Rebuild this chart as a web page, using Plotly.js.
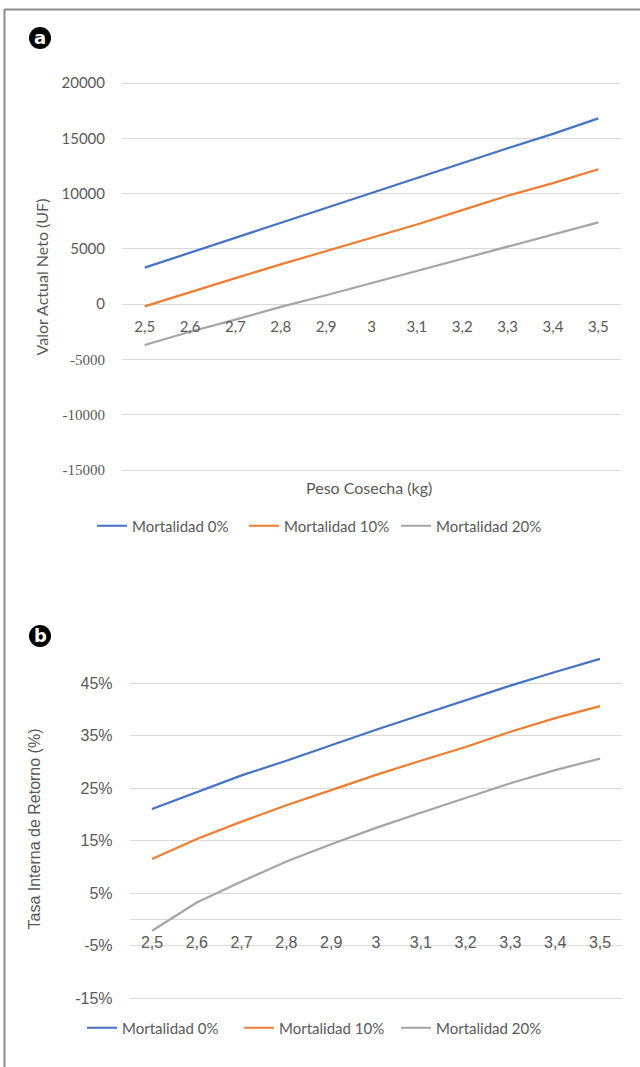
<!DOCTYPE html>
<html>
<head>
<meta charset="utf-8">
<script src="https://cdn.plot.ly/plotly-3.0.1.min.js"></script>
<style>
  html, body { margin: 0; padding: 0; background: #ffffff; }
  #chart { width: 640px; height: 1067px; }
</style>
</head>
<body>
<div id="chart"></div>
<script>
// ---------------- data ----------------
const pesoLabels = ['2,5','2,6','2,7','2,8','2,9','3','3,1','3,2','3,3','3,4','3,5'];
const seriesNames = ['Mortalidad 0%', 'Mortalidad 10%', 'Mortalidad 20%'];

// (a) Valor Actual Neto (UF)
const vanMort0  = [3300, 4650, 6000, 7400, 8700, 10050, 11400, 12750, 14100, 15400, 16800];
const vanMort10 = [-200, 1100, 2350, 3600, 4800, 6000, 7200, 8500, 9800, 10950, 12200];
const vanMort20 = [-3700, -2500, -1400, -250, 800, 1900, 3000, 4050, 5200, 6250, 7400];
const vanTicks  = [-15000, -10000, -5000, 0, 5000, 10000, 15000, 20000];

// (b) Tasa Interna de Retorno (%)
const tirMort0  = [21.0, 24.2, 27.4, 30.2, 33.2, 36.1, 38.9, 41.7, 44.5, 47.1, 49.6];
const tirMort10 = [11.5, 15.3, 18.6, 21.7, 24.6, 27.5, 30.2, 32.8, 35.7, 38.3, 40.6];
const tirMort20 = [-2.2, 3.2, 7.2, 11.0, 14.3, 17.4, 20.3, 23.1, 25.9, 28.4, 30.6];
const tirTicks  = [-15, -5, 5, 15, 25, 35, 45];

// ---------------- styling / layout helpers ----------------
const COLORS = ['#4472c4', '#ed7d31', '#a5a5a5'];
const W = 640, H = 1067;
const fx = p => p / W;
const fy = p => 1 - p / H;
const TXT = '#595959';
const GRID = '#d9d9d9';

function axisRange(domTopPx, domBotPx, refTopPx, refTopVal, refBotPx, refBotVal) {
  const k = (refTopVal - refBotVal) / (refBotPx - refTopPx); // units per px
  return {
    range: [refBotVal - (domBotPx - refBotPx) * k, refTopVal + (refTopPx - domTopPx) * k],
    zeroPx: refTopPx + refTopVal / k
  };
}

// chart a geometry
const aDom = { l: 122, r: 621, t: 76, b: 478 };
const aR = axisRange(aDom.t, aDom.b, 83, 20000, 470, -15000);
// chart b geometry
const bDom = { l: 129.6, r: 622.4, t: 652, b: 1006 };
const bR = axisRange(bDom.t, bDom.b, 683, 45, 998, -15);

const vanSeries = [vanMort0, vanMort10, vanMort20];
const tirSeries = [tirMort0, tirMort10, tirMort20];

const traces = [];
vanSeries.forEach((ys, i) => traces.push({
  type: 'scatter', mode: 'lines', name: seriesNames[i],
  x: pesoLabels, y: ys, xaxis: 'x', yaxis: 'y', legend: 'legend',
  line: { color: COLORS[i], width: 2.2 }, hoverinfo: 'x+y+name'
}));
tirSeries.forEach((ys, i) => traces.push({
  type: 'scatter', mode: 'lines', name: seriesNames[i],
  x: pesoLabels, y: ys, xaxis: 'x2', yaxis: 'y2', legend: 'legend2',
  line: { color: COLORS[i], width: 2.2 }, hoverinfo: 'x+y+name'
}));

const vanTickText = vanTicks.map(v => v < 0
  ? '<span style="font-family:Liberation Serif;font-size:15px">' + v + '</span>'
  : String(v));
const tirTickText = tirTicks.map(v => v + '%');

const fontA = 'Lato, "Open Sans", sans-serif';
const fontB = '"Liberation Sans", Arial, sans-serif';

const layout = {
  width: W, height: H,
  margin: { l: 0, r: 0, t: 0, b: 0, pad: 0 },
  paper_bgcolor: '#ffffff', plot_bgcolor: 'rgba(0,0,0,0)',
  showlegend: true,
  font: { family: fontA, color: TXT },
  xaxis: {
    type: 'category', domain: [fx(aDom.l), fx(aDom.r)], range: [-0.5, 10.5],
    anchor: 'free', position: fy(aR.zeroPx),
    showgrid: false, zeroline: false, showline: false, ticks: '',
    ticklabelstandoff: 12,
    tickfont: { family: fontA, size: 15, color: TXT }, fixedrange: true
  },
  yaxis: {
    domain: [fy(aDom.b), fy(aDom.t)], range: aR.range, anchor: 'x',
    tickvals: vanTicks, ticktext: vanTickText,
    showgrid: true, gridcolor: GRID, gridwidth: 1, zeroline: false, showline: false,
    ticks: '', ticklabelstandoff: 16,
    tickfont: { family: fontA, size: 15, color: TXT },
    title: { text: 'Valor Actual Neto (UF)', standoff: 8, font: { family: fontA, size: 16, color: TXT } },
    fixedrange: true
  },
  xaxis2: {
    type: 'category', domain: [fx(bDom.l), fx(bDom.r)], range: [-0.5, 10.5],
    anchor: 'free', position: fy(bR.zeroPx),
    showgrid: false, zeroline: false, showline: false, ticks: '',
    ticklabelstandoff: 12,
    tickfont: { family: fontB, size: 16, color: TXT }, fixedrange: true
  },
  yaxis2: {
    domain: [fy(bDom.b), fy(bDom.t)], range: bR.range, anchor: 'x2',
    tickvals: tirTicks, ticktext: tirTickText,
    showgrid: true, gridcolor: GRID, gridwidth: 1,
    zeroline: true, zerolinecolor: GRID, zerolinewidth: 1, showline: false,
    ticks: '', ticklabelstandoff: 16,
    tickfont: { family: fontB, size: 16, color: TXT },
    title: { text: 'Tasa Interna de Retorno (%)', standoff: 30, font: { family: fontB, size: 16, color: TXT } },
    fixedrange: true
  },
  legend: {
    orientation: 'h', x: fx(92), y: fy(526), xanchor: 'left', yanchor: 'middle',
    font: { family: fontA, size: 15, color: TXT }, bgcolor: 'rgba(0,0,0,0)',
    entrywidth: 107, entrywidthmode: 'pixels', itemclick: false, itemdoubleclick: false
  },
  legend2: {
    orientation: 'h', x: fx(82), y: fy(1028), xanchor: 'left', yanchor: 'middle',
    font: { family: fontA, size: 15, color: TXT }, bgcolor: 'rgba(0,0,0,0)',
    entrywidth: 112, entrywidthmode: 'pixels', itemclick: false, itemdoubleclick: false
  },
  annotations: [
    { xref: 'paper', yref: 'paper', x: fx(369), y: fy(487), text: 'Peso Cosecha (kg)',
      showarrow: false, xanchor: 'center', yanchor: 'middle',
      font: { family: fontA, size: 16, color: TXT } },
    { xref: 'paper', yref: 'paper', x: fx(40), y: fy(37.5), text: '<b>a</b>',
      showarrow: false, xanchor: 'center', yanchor: 'middle',
      font: { family: '"DejaVu Sans", sans-serif', size: 18, color: '#ffffff' } },
    { xref: 'paper', yref: 'paper', x: fx(40), y: fy(635.5), text: '<b>b</b>',
      showarrow: false, xanchor: 'center', yanchor: 'middle',
      font: { family: '"DejaVu Sans", sans-serif', size: 18, color: '#ffffff' } }
  ],
  shapes: [
    { type: 'circle', xref: 'paper', yref: 'paper', x0: fx(29), x1: fx(51), y0: fy(49), y1: fy(27),
      fillcolor: '#000000', line: { width: 0 }, layer: 'above' },
    { type: 'circle', xref: 'paper', yref: 'paper', x0: fx(29), x1: fx(51), y0: fy(647), y1: fy(625),
      fillcolor: '#000000', line: { width: 0 }, layer: 'above' },
    { type: 'line', xref: 'paper', yref: 'paper', x0: fx(4.5), x1: fx(4.5), y0: fy(9), y1: 0,
      line: { color: '#8c8c8c', width: 2 } },
    { type: 'line', xref: 'paper', yref: 'paper', x0: fx(4.5), x1: 1, y0: fy(9.5), y1: fy(9.5),
      line: { color: '#8c8c8c', width: 2 } }
  ]
};

Plotly.newPlot('chart', traces, layout, { staticPlot: true, displayModeBar: false });
</script>
</body>
</html>
